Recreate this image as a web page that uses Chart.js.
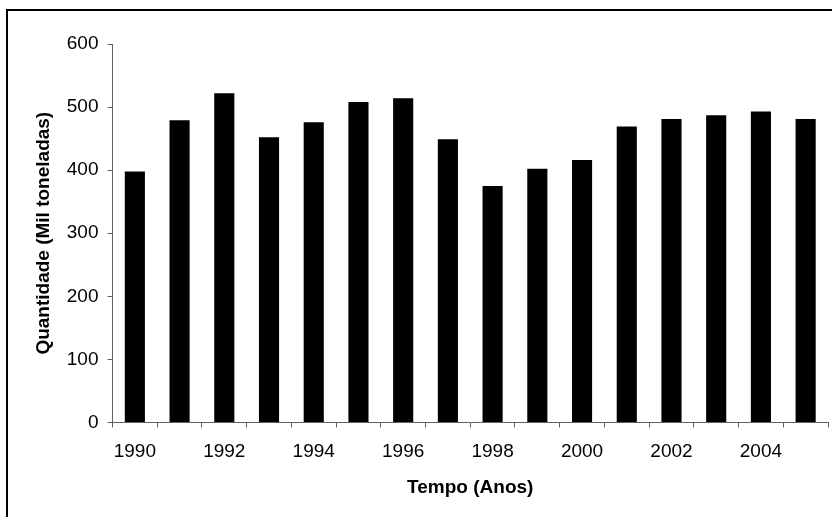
<!DOCTYPE html>
<html>
<head>
<meta charset="utf-8">
<script src="https://cdn.jsdelivr.net/npm/chart.js@4"></script>
<style>
  html, body { margin: 0; padding: 0; background: #fff; overflow: hidden; }
  #wrap { position: relative; width: 832px; height: 517px; }
  #frame { position: absolute; left: 6px; top: 9px; width: 900px; height: 600px; border-left: 2px solid #000; border-top: 2px solid #000; }
  canvas { position: absolute; left: 0; top: 0; }
</style>
</head>
<body>
<div id="wrap">
  <div id="frame"></div>
  <canvas id="chart" width="832" height="517"></canvas>
</div>
<script>
const years = ['1990', '1991', '1992', '1993', '1994', '1995', '1996', '1997',
  '1998', '1999', '2000', '2001', '2002', '2003', '2004', '2005'];
const quantidade = [398, 479, 522, 452, 476, 508, 514, 449, 375, 402, 416, 469, 481, 487, 493, 481];
const yTicks = [0, 100, 200, 300, 400, 500, 600];

const axisColor = '#606060';

document.addEventListener('DOMContentLoaded', () => {
  drawChart();
});

function drawChart() {
  const ctx = document.getElementById('chart').getContext('2d');
  new Chart(ctx, {
    type: 'bar',
    data: {
      labels: years,
      datasets: [{
        data: quantidade,
        backgroundColor: '#000',
        borderWidth: 0,
        categoryPercentage: 1,
        barPercentage: 0.45
      }]
    },
    options: {
      responsive: false,
      animation: false,
      layout: { padding: { left: 32, right: 4, top: 44, bottom: 18 } },
      plugins: { legend: { display: false }, tooltip: { enabled: false } },
      scales: {
        x: {
          grid: { offset: true, drawOnChartArea: false, tickLength: 5, color: axisColor },
          border: { color: axisColor, width: 1 },
          ticks: {
            autoSkip: false,
            maxRotation: 0,
            padding: 13,
            color: '#000',
            font: { family: 'Liberation Sans', size: 19 },
            callback: (v, i) => (i % 2 === 0 ? years[i] : '')
          },
          title: {
            display: true,
            text: 'Tempo (Anos)',
            color: '#000',
            font: { family: 'Liberation Sans', size: 19, weight: 'bold' },
            padding: { top: 0, bottom: 0 }
          }
        },
        y: {
          min: 0,
          max: 600,
          afterBuildTicks: (axis) => { axis.ticks = yTicks.map(v => ({ value: v })); },
          grid: { drawOnChartArea: false, tickLength: 5, color: axisColor },
          border: { color: axisColor, width: 1 },
          ticks: {
            padding: 9,
            color: '#000',
            font: { family: 'Liberation Sans', size: 19 }
          },
          title: {
            display: true,
            text: 'Quantidade (Mil toneladas)',
            color: '#000',
            font: { family: 'Liberation Sans', size: 19, weight: 'bold' },
            padding: { top: 0, bottom: 3 }
          }
        }
      }
    }
  });
}
</script>
</body>
</html>
